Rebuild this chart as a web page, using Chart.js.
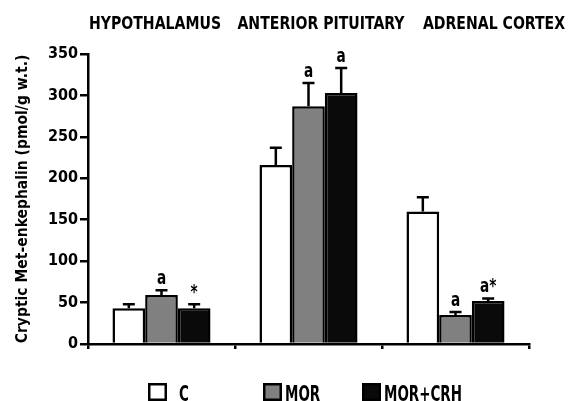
<!DOCTYPE html>
<html>
<head>
<meta charset="utf-8">
<script src="https://cdn.jsdelivr.net/npm/chart.js@4.4.0/dist/chart.umd.min.js"></script>
<style>
html,body{margin:0;padding:0;background:#fff;}
#wrap{width:568px;height:401px;}
</style>
</head>
<body>
<div id="wrap"><canvas id="c" width="568" height="401"></canvas></div>
<script>
const categories = ['HYPOTHALAMUS', 'ANTERIOR PITUITARY', 'ADRENAL CORTEX'];
const seriesNames = ['C', 'MOR', 'MOR+CRH'];
const valuesC = [43, 216, 160];
const valuesMOR = [59, 287, 35];
const valuesMORCRH = [43, 303, 52];
const errC = [5, 21, 17];
const errMOR = [6, 28, 3.5];
const errMORCRH = [5, 30, 3];
const marksC = ['', '', ''];
const marksMOR = ['a', 'a', 'a'];
const marksMORCRH = ['*', 'a', 'a*'];
const yTicks = [0, 50, 100, 150, 200, 250, 300, 350];
const yTitle = 'Cryptic Met-enkephalin (pmol/g w.t.)';

const FONT = '"Liberation Sans Narrow", "DejaVu Sans Condensed", "Roboto Condensed", "Liberation Sans", sans-serif';
const fills = ['#ffffff', '#808080', '#0a0a0a'];

const errs = [errC, errMOR, errMORCRH];
const marks = [marksC, marksMOR, marksMORCRH];

function condensedText(ctx, text, x, y, align, size, sx) {
  ctx.save();
  ctx.font = 'bold ' + size + 'px ' + FONT;
  ctx.textAlign = align;
  ctx.textBaseline = 'alphabetic';
  ctx.translate(x, y);
  ctx.scale(sx, 1);
  ctx.fillText(text, 0, 0);
  ctx.restore();
}

const overlay = {
  id: 'overlay',
  afterDatasetsDraw(chart) {
    const ctx = chart.ctx;
    const y = chart.scales.y;
    ctx.save();
    chart.data.datasets.forEach((ds, di) => {
      const meta = chart.getDatasetMeta(di);
      meta.data.forEach((bar, i) => {
        const v = ds.data[i];
        const top = y.getPixelForValue(v + errs[di][i]);
        const base = y.getPixelForValue(v);
        ctx.strokeStyle = '#000';
        ctx.lineWidth = 2.5;
        ctx.beginPath();
        ctx.moveTo(bar.x, base);
        ctx.lineTo(bar.x, top);
        ctx.moveTo(bar.x - 6, top);
        ctx.lineTo(bar.x + 6, top);
        ctx.stroke();
        const m = marks[di][i];
        if (m) {
          ctx.fillStyle = '#000';
          condensedText(ctx, m, bar.x, top - 6, 'center', 19, 0.8);
        }
      });
    });
    // category titles
    const titleX = [155, 321, 494];
    ctx.fillStyle = '#000';
    chart.data.labels.forEach((lab, i) => {
      condensedText(ctx, lab, titleX[i], 29, 'center', 18, 0.87);
    });
    // legend
    const legX = [148, 263, 362];
    chart.data.datasets.forEach((ds, di) => {
      ctx.fillStyle = ds.backgroundColor;
      ctx.fillRect(legX[di], 383, 19, 18);
      ctx.lineWidth = 2.5;
      ctx.strokeStyle = '#000';
      ctx.strokeRect(legX[di] + 1.25, 384.25, 16.5, 15.5);
      ctx.fillStyle = '#000';
      condensedText(ctx, ds.label, legX[di] + (di === 0 ? 31 : 22), 401, 'left', 22, 0.68);
    });
    ctx.restore();
  }
};

new Chart(document.getElementById('c'), {
  type: 'bar',
  data: {
    labels: categories,
    datasets: [
      { label: seriesNames[0], data: valuesC, backgroundColor: fills[0] },
      { label: seriesNames[1], data: valuesMOR, backgroundColor: fills[1] },
      { label: seriesNames[2], data: valuesMORCRH, backgroundColor: fills[2] }
    ]
  },
  options: {
    responsive: false,
    animation: false,
    devicePixelRatio: 1,
    layout: { padding: { top: 54, right: 39, bottom: 52, left: 0 } },
    datasets: { bar: { categoryPercentage: 0.667, barPercentage: 1.0, borderColor: '#000', borderWidth: 2.5 } },
    plugins: { legend: { display: false }, tooltip: { enabled: false } },
    scales: {
      x: {
        ticks: { display: false },
        grid: { offset: true, drawOnChartArea: false, drawTicks: true, tickLength: 5, color: '#000', lineWidth: 2.5 },
        border: { display: true, color: '#000', width: 2.5 }
      },
      y: {
        min: 0, max: 350,
        afterBuildTicks(scale) { scale.ticks = yTicks.map(v => ({ value: v })); },
        afterFit(scale) { scale.width = 88; },
        ticks: { color: '#000', font: { family: FONT, size: 16, weight: 'bold' }, padding: 2 },
        grid: { drawOnChartArea: false, drawTicks: true, tickLength: 8, color: '#000', lineWidth: 2.5 },
        border: { display: true, color: '#000', width: 2.5 },
        title: { display: true, text: yTitle, color: '#000', font: { family: FONT, size: 15.5, weight: 'bold' }, padding: { top: 14, bottom: 0 } }
      }
    }
  },
  plugins: [overlay]
});
</script>
</body>
</html>
